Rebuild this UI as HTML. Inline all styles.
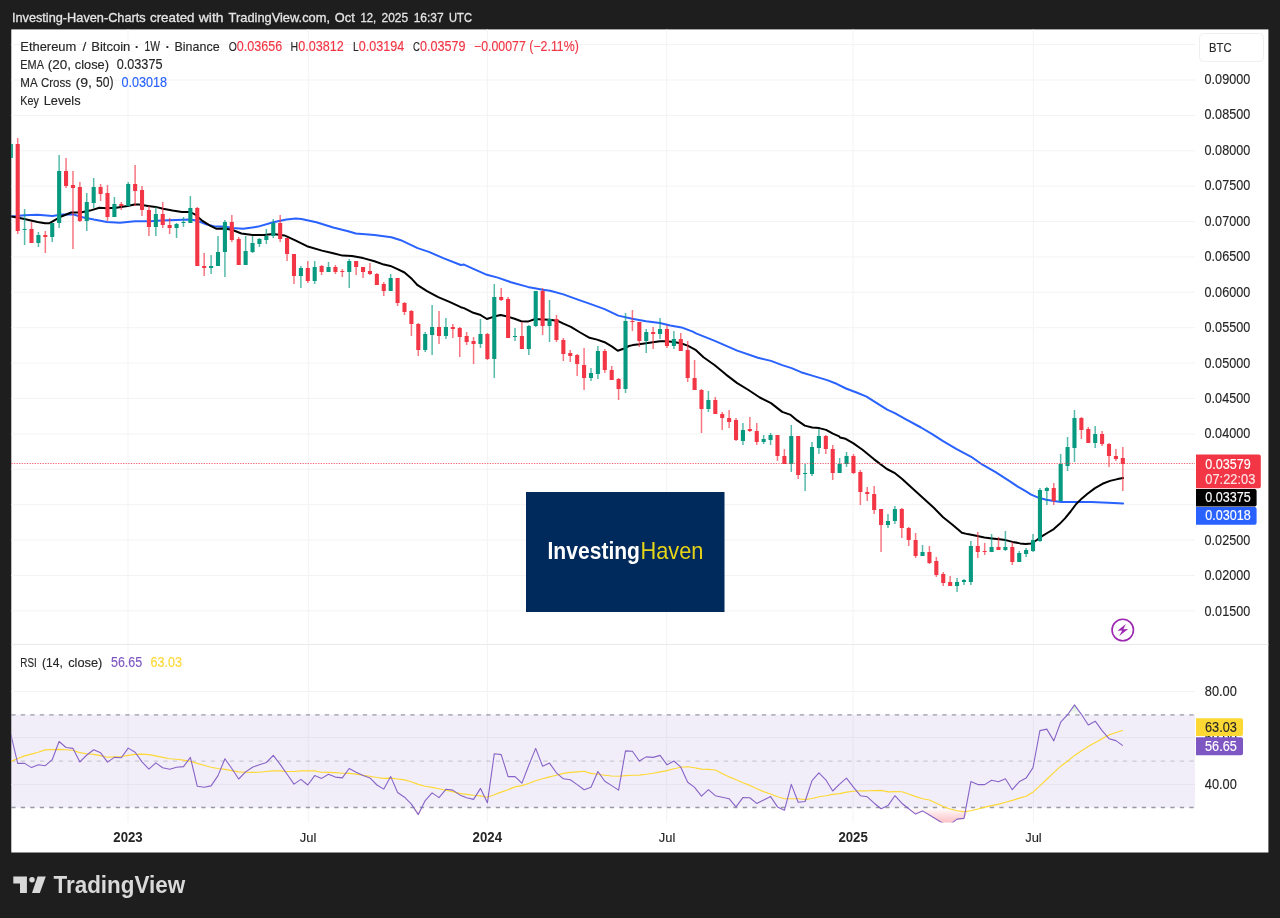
<!DOCTYPE html><html><head><meta charset="utf-8"><title>ETHBTC chart</title>
<style>html,body{margin:0;padding:0;background:#1e1e1e;}svg{display:block}text{font-family:"Liberation Sans",Arial,sans-serif}</style></head><body>
<svg width="1280" height="918" viewBox="0 0 1280 918">
<rect x="0" y="0" width="1280" height="918" fill="#1e1e1e"/>
<text x="11.9" y="21.9" font-size="13" fill="#e4e4e4" stroke="#e4e4e4" stroke-width="0.3" textLength="133.8" lengthAdjust="spacingAndGlyphs">Investing-Haven-Charts</text>
<text x="150.0" y="21.9" font-size="13" fill="#e4e4e4" stroke="#e4e4e4" stroke-width="0.3" textLength="44.5" lengthAdjust="spacingAndGlyphs">created</text>
<text x="198.8" y="21.9" font-size="13" fill="#e4e4e4" stroke="#e4e4e4" stroke-width="0.3" textLength="24.7" lengthAdjust="spacingAndGlyphs">with</text>
<text x="228.6" y="21.9" font-size="13" fill="#e4e4e4" stroke="#e4e4e4" stroke-width="0.3" textLength="101.4" lengthAdjust="spacingAndGlyphs">TradingView.com,</text>
<text x="334.8" y="21.9" font-size="13" fill="#e4e4e4" stroke="#e4e4e4" stroke-width="0.3" textLength="19.9" lengthAdjust="spacingAndGlyphs">Oct</text>
<text x="360.5" y="21.9" font-size="13" fill="#e4e4e4" stroke="#e4e4e4" stroke-width="0.3" textLength="15.7" lengthAdjust="spacingAndGlyphs">12,</text>
<text x="381.6" y="21.9" font-size="13" fill="#e4e4e4" stroke="#e4e4e4" stroke-width="0.3" textLength="26.5" lengthAdjust="spacingAndGlyphs">2025</text>
<text x="413.7" y="21.9" font-size="13" fill="#e4e4e4" stroke="#e4e4e4" stroke-width="0.3" textLength="30.0" lengthAdjust="spacingAndGlyphs">16:37</text>
<text x="449.1" y="21.9" font-size="13" fill="#e4e4e4" stroke="#e4e4e4" stroke-width="0.3" textLength="22.8" lengthAdjust="spacingAndGlyphs">UTC</text>
<rect x="11.3" y="29.4" width="1257.1" height="823.1" fill="#ffffff"/>
<g stroke="#f3f3f4" stroke-width="1">
<line x1="128.0" y1="29.4" x2="128.0" y2="822.5"/>
<line x1="308.3" y1="29.4" x2="308.3" y2="822.5"/>
<line x1="487.4" y1="29.4" x2="487.4" y2="822.5"/>
<line x1="666.7" y1="29.4" x2="666.7" y2="822.5"/>
<line x1="853.1" y1="29.4" x2="853.1" y2="822.5"/>
<line x1="1033.4" y1="29.4" x2="1033.4" y2="822.5"/>
<line x1="11.3" y1="44.61" x2="1195" y2="44.61"/>
<line x1="11.3" y1="80.00" x2="1195" y2="80.00"/>
<line x1="11.3" y1="115.39" x2="1195" y2="115.39"/>
<line x1="11.3" y1="150.78" x2="1195" y2="150.78"/>
<line x1="11.3" y1="186.17" x2="1195" y2="186.17"/>
<line x1="11.3" y1="221.56" x2="1195" y2="221.56"/>
<line x1="11.3" y1="256.95" x2="1195" y2="256.95"/>
<line x1="11.3" y1="292.34" x2="1195" y2="292.34"/>
<line x1="11.3" y1="327.73" x2="1195" y2="327.73"/>
<line x1="11.3" y1="363.12" x2="1195" y2="363.12"/>
<line x1="11.3" y1="398.51" x2="1195" y2="398.51"/>
<line x1="11.3" y1="433.90" x2="1195" y2="433.90"/>
<line x1="11.3" y1="469.29" x2="1195" y2="469.29"/>
<line x1="11.3" y1="504.68" x2="1195" y2="504.68"/>
<line x1="11.3" y1="540.07" x2="1195" y2="540.07"/>
<line x1="11.3" y1="575.46" x2="1195" y2="575.46"/>
<line x1="11.3" y1="610.85" x2="1195" y2="610.85"/>
<line x1="11.3" y1="691.5" x2="1195" y2="691.5"/>
<line x1="11.3" y1="737.5" x2="1195" y2="737.5"/>
<line x1="11.3" y1="784.5" x2="1195" y2="784.5"/>
</g>
<rect x="11.3" y="644" width="1257.1" height="1" fill="#e9e9ec"/>
<rect x="11.3" y="714.7" width="1183.7" height="92.8" fill="#7e57c2" fill-opacity="0.1"/>
<line x1="11.3" y1="714.9" x2="1195" y2="714.9" stroke="#787b86" stroke-opacity="0.75" stroke-width="1.4" stroke-dasharray="4.3,5.2"/>
<line x1="11.3" y1="761.1" x2="1195" y2="761.1" stroke="#787b86" stroke-opacity="0.32" stroke-width="1.3" stroke-dasharray="4.3,5.2"/>
<line x1="11.3" y1="807.5" x2="1195" y2="807.5" stroke="#787b86" stroke-opacity="0.75" stroke-width="1.4" stroke-dasharray="4.3,5.2"/>
<defs><clipPath id="cm"><rect x="11.3" y="29.4" width="1183.7" height="614.6"/></clipPath><clipPath id="cr"><rect x="11.3" y="645" width="1183.7" height="177.5"/></clipPath>
<linearGradient id="og" x1="0" y1="0" x2="0" y2="1"><stop offset="0" stop-color="#f23645" stop-opacity="0"/><stop offset="1" stop-color="#f23645" stop-opacity="0.35"/></linearGradient>
<linearGradient id="bg" x1="0" y1="0" x2="0" y2="1"><stop offset="0" stop-color="#4caf50" stop-opacity="0.3"/><stop offset="1" stop-color="#4caf50" stop-opacity="0"/></linearGradient>
</defs>
<g clip-path="url(#cm)">
<polyline fill="none" stroke="#2962ff" stroke-width="2" stroke-linejoin="round" stroke-linecap="round" points="10.5,216.3 12.0,216.6 24.4,215.3 37.5,214.8 52.5,215.9 61.9,214.4 73.1,214.4 82.5,217.2 93.8,219.6 106.9,221.9 120.0,222.8 135.0,221.3 150.0,221.3 161.2,220.6 176.2,220.0 189.4,219.6 196.9,220.6 206.2,224.3 215.6,226.6 225.0,226.6 232.0,227.9 243.2,228.8 258.2,226.6 273.2,222.2 286.4,219.4 295.8,218.5 301.4,219.1 316.4,222.2 333.2,227.5 348.2,231.2 355.8,233.5 374.5,235.0 391.4,237.2 400.8,240.2 417.6,248.1 428.9,251.9 443.9,258.4 460.8,265.0 464.0,264.6 473.4,268.8 486.9,274.8 497.8,277.6 510.9,282.2 527.8,286.9 542.8,289.8 550.2,290.7 563.4,294.4 576.5,299.1 591.5,304.4 604.6,309.1 618.3,315.6 632.2,318.8 646.1,321.2 659.9,323.1 670.2,325.4 681.5,327.4 692.8,331.6 696.0,333.4 714.8,340.9 737.2,350.6 757.9,357.8 771.0,360.9 782.2,365.1 791.6,368.1 801.0,372.2 812.2,375.6 827.2,380.1 836.6,383.8 846.0,388.5 857.2,392.8 866.6,396.6 876.0,402.6 887.2,409.7 894.8,413.1 906.0,419.4 921.0,427.5 932.2,434.1 943.1,441.2 956.2,448.8 971.2,456.8 982.5,464.7 995.6,472.2 1008.8,480.6 1018.1,486.8 1020.0,487.9 1025.6,491.2 1031.2,494.6 1038.8,497.8 1046.2,499.7 1053.8,501.0 1061.2,501.9 1076.2,502.1 1091.2,502.1 1102.5,502.5 1113.8,502.9 1123.1,503.4"/>
<polyline fill="none" stroke="#000000" stroke-width="2" stroke-linejoin="round" stroke-linecap="round" points="10.5,216.3 12.0,216.6 24.4,219.1 37.5,221.9 45.0,223.2 49.7,223.2 54.4,220.4 61.9,216.2 71.2,212.5 80.6,212.5 90.0,210.6 99.4,207.8 106.9,208.2 116.2,207.8 127.5,205.9 134.6,204.4 138.8,204.6 148.1,205.9 155.6,206.9 163.1,208.8 172.5,210.6 181.9,211.9 189.4,211.9 195.0,214.4 202.5,220.9 210.0,225.6 216.6,228.8 223.1,228.4 230.6,229.4 232.0,229.8 241.4,233.5 252.6,235.0 263.9,235.0 273.2,234.1 284.5,235.4 295.8,240.6 307.0,246.2 322.0,250.6 333.2,253.2 342.6,255.6 352.0,256.0 363.2,258.1 374.5,261.2 383.9,264.6 390.4,265.9 397.0,268.8 404.5,272.5 412.0,279.1 417.6,285.2 427.0,291.2 438.2,297.2 449.5,301.9 460.8,307.2 464.0,308.1 473.4,312.8 479.9,314.7 486.9,319.0 494.0,316.6 500.6,315.1 507.5,316.6 514.6,318.8 521.2,321.2 527.8,321.6 535.2,319.0 542.8,319.4 550.2,319.8 557.8,320.9 563.4,323.7 570.9,326.9 580.2,332.5 589.6,337.8 597.1,339.6 604.6,342.2 612.1,346.6 617.8,350.7 623.4,348.8 629.0,346.0 632.8,345.1 639.1,344.3 646.1,343.2 653.0,342.2 659.9,341.3 666.9,341.3 673.8,341.9 680.8,343.2 687.7,345.6 694.6,349.4 696.0,350.2 703.5,357.2 714.8,365.2 726.0,374.6 737.2,383.1 748.5,390.0 759.8,397.5 771.0,403.1 782.2,411.9 790.7,414.9 797.2,420.4 804.8,425.6 812.2,427.5 819.2,428.1 826.1,429.9 832.9,433.7 839.2,436.3 840.0,437.5 845.6,438.8 853.1,443.1 862.5,449.7 873.8,459.1 886.9,469.0 894.4,472.8 901.9,478.8 911.2,487.2 922.5,497.5 933.8,507.8 943.1,517.2 952.5,524.7 961.9,532.8 967.5,534.1 975.0,535.6 984.4,537.4 991.9,538.4 999.4,539.3 1005.6,540.1 1012.5,541.9 1018.1,542.9 1020.0,543.4 1025.6,544.1 1031.2,543.4 1036.9,540.0 1042.5,535.9 1048.1,532.5 1053.8,529.1 1059.4,524.1 1065.0,518.4 1070.6,511.5 1076.2,504.0 1081.9,498.4 1087.5,493.7 1095.0,488.1 1102.5,483.8 1110.0,480.9 1117.5,479.1 1123.1,478.1"/>
<rect x="10.04" y="144" width="1.5" height="14" fill="#089981" fill-opacity="0.68"/>
<rect x="16.95" y="138" width="1.5" height="96" fill="#f23645" fill-opacity="0.68"/>
<rect x="23.86" y="209" width="1.5" height="36" fill="#089981" fill-opacity="0.68"/>
<rect x="30.76" y="222" width="1.5" height="21" fill="#f23645" fill-opacity="0.68"/>
<rect x="37.67" y="232" width="1.5" height="15" fill="#089981" fill-opacity="0.68"/>
<rect x="44.58" y="231" width="1.5" height="22" fill="#f23645" fill-opacity="0.68"/>
<rect x="51.48" y="223" width="1.5" height="19" fill="#089981" fill-opacity="0.68"/>
<rect x="58.39" y="155" width="1.5" height="73" fill="#089981" fill-opacity="0.68"/>
<rect x="65.30" y="158" width="1.5" height="30" fill="#f23645" fill-opacity="0.68"/>
<rect x="72.21" y="171" width="1.5" height="78" fill="#f23645" fill-opacity="0.68"/>
<rect x="79.11" y="182" width="1.5" height="40" fill="#f23645" fill-opacity="0.68"/>
<rect x="86.02" y="193" width="1.5" height="38" fill="#089981" fill-opacity="0.68"/>
<rect x="92.93" y="178" width="1.5" height="30" fill="#089981" fill-opacity="0.68"/>
<rect x="99.83" y="184" width="1.5" height="17" fill="#f23645" fill-opacity="0.68"/>
<rect x="106.74" y="185" width="1.5" height="36" fill="#f23645" fill-opacity="0.68"/>
<rect x="113.65" y="197" width="1.5" height="20" fill="#089981" fill-opacity="0.68"/>
<rect x="120.56" y="202" width="1.5" height="8" fill="#f23645" fill-opacity="0.68"/>
<rect x="127.46" y="182" width="1.5" height="24" fill="#089981" fill-opacity="0.68"/>
<rect x="134.37" y="165" width="1.5" height="41" fill="#f23645" fill-opacity="0.68"/>
<rect x="141.28" y="186" width="1.5" height="30" fill="#f23645" fill-opacity="0.68"/>
<rect x="148.18" y="206" width="1.5" height="30" fill="#f23645" fill-opacity="0.68"/>
<rect x="155.09" y="207" width="1.5" height="29" fill="#089981" fill-opacity="0.68"/>
<rect x="162.00" y="202" width="1.5" height="26" fill="#f23645" fill-opacity="0.68"/>
<rect x="168.90" y="218" width="1.5" height="16" fill="#f23645" fill-opacity="0.68"/>
<rect x="175.81" y="223" width="1.5" height="15" fill="#089981" fill-opacity="0.68"/>
<rect x="182.72" y="217" width="1.5" height="10" fill="#089981" fill-opacity="0.68"/>
<rect x="189.62" y="196" width="1.5" height="27" fill="#089981" fill-opacity="0.68"/>
<rect x="196.53" y="207" width="1.5" height="59" fill="#f23645" fill-opacity="0.68"/>
<rect x="203.44" y="253" width="1.5" height="23" fill="#f23645" fill-opacity="0.68"/>
<rect x="210.35" y="255" width="1.5" height="19" fill="#089981" fill-opacity="0.68"/>
<rect x="217.25" y="236" width="1.5" height="30" fill="#089981" fill-opacity="0.68"/>
<rect x="224.16" y="220" width="1.5" height="57" fill="#089981" fill-opacity="0.68"/>
<rect x="231.07" y="215" width="1.5" height="27" fill="#f23645" fill-opacity="0.68"/>
<rect x="237.97" y="237" width="1.5" height="28" fill="#f23645" fill-opacity="0.68"/>
<rect x="244.88" y="236" width="1.5" height="29" fill="#089981" fill-opacity="0.68"/>
<rect x="251.79" y="236" width="1.5" height="17" fill="#089981" fill-opacity="0.68"/>
<rect x="258.69" y="238" width="1.5" height="9" fill="#089981" fill-opacity="0.68"/>
<rect x="265.60" y="229" width="1.5" height="15" fill="#089981" fill-opacity="0.68"/>
<rect x="272.51" y="219" width="1.5" height="19" fill="#089981" fill-opacity="0.68"/>
<rect x="279.42" y="215" width="1.5" height="27" fill="#f23645" fill-opacity="0.68"/>
<rect x="286.32" y="238" width="1.5" height="23" fill="#f23645" fill-opacity="0.68"/>
<rect x="293.23" y="254" width="1.5" height="30" fill="#f23645" fill-opacity="0.68"/>
<rect x="300.14" y="266" width="1.5" height="22" fill="#089981" fill-opacity="0.68"/>
<rect x="307.04" y="261" width="1.5" height="22" fill="#f23645" fill-opacity="0.68"/>
<rect x="313.95" y="261" width="1.5" height="23" fill="#089981" fill-opacity="0.68"/>
<rect x="320.86" y="265" width="1.5" height="10" fill="#f23645" fill-opacity="0.68"/>
<rect x="327.76" y="262" width="1.5" height="10" fill="#089981" fill-opacity="0.68"/>
<rect x="334.67" y="265" width="1.5" height="9" fill="#f23645" fill-opacity="0.68"/>
<rect x="341.58" y="269" width="1.5" height="8" fill="#f23645" fill-opacity="0.68"/>
<rect x="348.49" y="259" width="1.5" height="29" fill="#089981" fill-opacity="0.68"/>
<rect x="355.39" y="261" width="1.5" height="14" fill="#f23645" fill-opacity="0.68"/>
<rect x="362.30" y="267" width="1.5" height="11" fill="#f23645" fill-opacity="0.68"/>
<rect x="369.21" y="263" width="1.5" height="12" fill="#f23645" fill-opacity="0.68"/>
<rect x="376.11" y="273" width="1.5" height="12" fill="#f23645" fill-opacity="0.68"/>
<rect x="383.02" y="282" width="1.5" height="14" fill="#f23645" fill-opacity="0.68"/>
<rect x="389.93" y="274" width="1.5" height="17" fill="#089981" fill-opacity="0.68"/>
<rect x="396.83" y="278" width="1.5" height="28" fill="#f23645" fill-opacity="0.68"/>
<rect x="403.74" y="302" width="1.5" height="13" fill="#f23645" fill-opacity="0.68"/>
<rect x="410.65" y="310" width="1.5" height="26" fill="#f23645" fill-opacity="0.68"/>
<rect x="417.56" y="323" width="1.5" height="33" fill="#f23645" fill-opacity="0.68"/>
<rect x="424.46" y="332" width="1.5" height="20" fill="#089981" fill-opacity="0.68"/>
<rect x="431.37" y="305" width="1.5" height="50" fill="#089981" fill-opacity="0.68"/>
<rect x="438.28" y="311" width="1.5" height="33" fill="#f23645" fill-opacity="0.68"/>
<rect x="445.18" y="318" width="1.5" height="21" fill="#089981" fill-opacity="0.68"/>
<rect x="452.09" y="324" width="1.5" height="14" fill="#f23645" fill-opacity="0.68"/>
<rect x="459.00" y="327" width="1.5" height="30" fill="#f23645" fill-opacity="0.68"/>
<rect x="465.90" y="332" width="1.5" height="13" fill="#f23645" fill-opacity="0.68"/>
<rect x="472.81" y="337" width="1.5" height="27" fill="#f23645" fill-opacity="0.68"/>
<rect x="479.72" y="319" width="1.5" height="29" fill="#089981" fill-opacity="0.68"/>
<rect x="486.63" y="333" width="1.5" height="27" fill="#f23645" fill-opacity="0.68"/>
<rect x="493.53" y="284" width="1.5" height="94" fill="#089981" fill-opacity="0.68"/>
<rect x="500.44" y="288" width="1.5" height="13" fill="#f23645" fill-opacity="0.68"/>
<rect x="507.35" y="297" width="1.5" height="41" fill="#f23645" fill-opacity="0.68"/>
<rect x="514.25" y="328" width="1.5" height="13" fill="#089981" fill-opacity="0.68"/>
<rect x="521.16" y="322" width="1.5" height="27" fill="#f23645" fill-opacity="0.68"/>
<rect x="528.07" y="325" width="1.5" height="30" fill="#089981" fill-opacity="0.68"/>
<rect x="534.98" y="291" width="1.5" height="36" fill="#089981" fill-opacity="0.68"/>
<rect x="541.88" y="288" width="1.5" height="47" fill="#f23645" fill-opacity="0.68"/>
<rect x="548.79" y="300" width="1.5" height="42" fill="#089981" fill-opacity="0.68"/>
<rect x="555.70" y="315" width="1.5" height="27" fill="#f23645" fill-opacity="0.68"/>
<rect x="562.60" y="338" width="1.5" height="23" fill="#f23645" fill-opacity="0.68"/>
<rect x="569.51" y="350" width="1.5" height="12" fill="#f23645" fill-opacity="0.68"/>
<rect x="576.42" y="354" width="1.5" height="22" fill="#f23645" fill-opacity="0.68"/>
<rect x="583.32" y="348" width="1.5" height="42" fill="#f23645" fill-opacity="0.68"/>
<rect x="590.23" y="368" width="1.5" height="13" fill="#089981" fill-opacity="0.68"/>
<rect x="597.14" y="346" width="1.5" height="33" fill="#089981" fill-opacity="0.68"/>
<rect x="604.05" y="349" width="1.5" height="24" fill="#f23645" fill-opacity="0.68"/>
<rect x="610.95" y="366" width="1.5" height="14" fill="#f23645" fill-opacity="0.68"/>
<rect x="617.86" y="378" width="1.5" height="22" fill="#f23645" fill-opacity="0.68"/>
<rect x="624.77" y="313" width="1.5" height="80" fill="#089981" fill-opacity="0.68"/>
<rect x="631.67" y="310" width="1.5" height="21" fill="#f23645" fill-opacity="0.68"/>
<rect x="638.58" y="322" width="1.5" height="25" fill="#f23645" fill-opacity="0.68"/>
<rect x="645.49" y="329" width="1.5" height="24" fill="#089981" fill-opacity="0.68"/>
<rect x="652.39" y="327" width="1.5" height="22" fill="#f23645" fill-opacity="0.68"/>
<rect x="659.30" y="318" width="1.5" height="21" fill="#089981" fill-opacity="0.68"/>
<rect x="666.21" y="325" width="1.5" height="23" fill="#f23645" fill-opacity="0.68"/>
<rect x="673.12" y="331" width="1.5" height="18" fill="#089981" fill-opacity="0.68"/>
<rect x="680.02" y="333" width="1.5" height="18" fill="#f23645" fill-opacity="0.68"/>
<rect x="686.93" y="341" width="1.5" height="41" fill="#f23645" fill-opacity="0.68"/>
<rect x="693.84" y="360" width="1.5" height="30" fill="#f23645" fill-opacity="0.68"/>
<rect x="700.74" y="389" width="1.5" height="44" fill="#f23645" fill-opacity="0.68"/>
<rect x="707.65" y="391" width="1.5" height="21" fill="#089981" fill-opacity="0.68"/>
<rect x="714.56" y="397" width="1.5" height="17" fill="#f23645" fill-opacity="0.68"/>
<rect x="721.46" y="412" width="1.5" height="18" fill="#f23645" fill-opacity="0.68"/>
<rect x="728.37" y="410" width="1.5" height="18" fill="#f23645" fill-opacity="0.68"/>
<rect x="735.28" y="418" width="1.5" height="23" fill="#f23645" fill-opacity="0.68"/>
<rect x="742.19" y="423" width="1.5" height="22" fill="#089981" fill-opacity="0.68"/>
<rect x="749.09" y="417" width="1.5" height="15" fill="#f23645" fill-opacity="0.68"/>
<rect x="756.00" y="423" width="1.5" height="22" fill="#f23645" fill-opacity="0.68"/>
<rect x="762.91" y="435" width="1.5" height="9" fill="#089981" fill-opacity="0.68"/>
<rect x="769.81" y="433" width="1.5" height="12" fill="#089981" fill-opacity="0.68"/>
<rect x="776.72" y="435" width="1.5" height="26" fill="#f23645" fill-opacity="0.68"/>
<rect x="783.63" y="449" width="1.5" height="15" fill="#f23645" fill-opacity="0.68"/>
<rect x="790.53" y="425" width="1.5" height="47" fill="#089981" fill-opacity="0.68"/>
<rect x="797.44" y="436" width="1.5" height="43" fill="#f23645" fill-opacity="0.68"/>
<rect x="804.35" y="464" width="1.5" height="27" fill="#089981" fill-opacity="0.68"/>
<rect x="811.25" y="442" width="1.5" height="34" fill="#089981" fill-opacity="0.68"/>
<rect x="818.16" y="429" width="1.5" height="25" fill="#089981" fill-opacity="0.68"/>
<rect x="825.07" y="435" width="1.5" height="19" fill="#f23645" fill-opacity="0.68"/>
<rect x="831.98" y="445" width="1.5" height="35" fill="#f23645" fill-opacity="0.68"/>
<rect x="838.88" y="458" width="1.5" height="15" fill="#089981" fill-opacity="0.68"/>
<rect x="845.79" y="452" width="1.5" height="15" fill="#089981" fill-opacity="0.68"/>
<rect x="852.70" y="454" width="1.5" height="20" fill="#f23645" fill-opacity="0.68"/>
<rect x="859.60" y="470" width="1.5" height="35" fill="#f23645" fill-opacity="0.68"/>
<rect x="866.51" y="487" width="1.5" height="14" fill="#f23645" fill-opacity="0.68"/>
<rect x="873.42" y="486" width="1.5" height="28" fill="#f23645" fill-opacity="0.68"/>
<rect x="880.33" y="509" width="1.5" height="43" fill="#f23645" fill-opacity="0.68"/>
<rect x="887.23" y="514" width="1.5" height="14" fill="#089981" fill-opacity="0.68"/>
<rect x="894.14" y="506" width="1.5" height="18" fill="#089981" fill-opacity="0.68"/>
<rect x="901.05" y="508" width="1.5" height="30" fill="#f23645" fill-opacity="0.68"/>
<rect x="907.95" y="527" width="1.5" height="19" fill="#f23645" fill-opacity="0.68"/>
<rect x="914.86" y="533" width="1.5" height="25" fill="#f23645" fill-opacity="0.68"/>
<rect x="921.77" y="545" width="1.5" height="11" fill="#089981" fill-opacity="0.68"/>
<rect x="928.67" y="546" width="1.5" height="18" fill="#f23645" fill-opacity="0.68"/>
<rect x="935.58" y="557" width="1.5" height="20" fill="#f23645" fill-opacity="0.68"/>
<rect x="942.49" y="572" width="1.5" height="14" fill="#f23645" fill-opacity="0.68"/>
<rect x="949.40" y="576" width="1.5" height="10" fill="#f23645" fill-opacity="0.68"/>
<rect x="956.30" y="578" width="1.5" height="14" fill="#089981" fill-opacity="0.68"/>
<rect x="963.21" y="579" width="1.5" height="6" fill="#089981" fill-opacity="0.68"/>
<rect x="970.12" y="541" width="1.5" height="44" fill="#089981" fill-opacity="0.68"/>
<rect x="977.02" y="532" width="1.5" height="26" fill="#f23645" fill-opacity="0.68"/>
<rect x="983.93" y="543" width="1.5" height="12" fill="#f23645" fill-opacity="0.68"/>
<rect x="990.84" y="534" width="1.5" height="18" fill="#089981" fill-opacity="0.68"/>
<rect x="997.74" y="537" width="1.5" height="13" fill="#f23645" fill-opacity="0.68"/>
<rect x="1004.65" y="531" width="1.5" height="20" fill="#089981" fill-opacity="0.68"/>
<rect x="1011.56" y="542" width="1.5" height="23" fill="#f23645" fill-opacity="0.68"/>
<rect x="1018.47" y="551" width="1.5" height="11" fill="#089981" fill-opacity="0.68"/>
<rect x="1025.37" y="548" width="1.5" height="9" fill="#089981" fill-opacity="0.68"/>
<rect x="1032.28" y="534" width="1.5" height="18" fill="#089981" fill-opacity="0.68"/>
<rect x="1039.19" y="488" width="1.5" height="54" fill="#089981" fill-opacity="0.68"/>
<rect x="1046.09" y="487" width="1.5" height="18" fill="#089981" fill-opacity="0.68"/>
<rect x="1053.00" y="483" width="1.5" height="22" fill="#f23645" fill-opacity="0.68"/>
<rect x="1059.91" y="454" width="1.5" height="47" fill="#089981" fill-opacity="0.68"/>
<rect x="1066.81" y="437" width="1.5" height="34" fill="#089981" fill-opacity="0.68"/>
<rect x="1073.72" y="410" width="1.5" height="52" fill="#089981" fill-opacity="0.68"/>
<rect x="1080.63" y="417" width="1.5" height="22" fill="#f23645" fill-opacity="0.68"/>
<rect x="1087.54" y="427" width="1.5" height="16" fill="#f23645" fill-opacity="0.68"/>
<rect x="1094.44" y="426" width="1.5" height="22" fill="#089981" fill-opacity="0.68"/>
<rect x="1101.35" y="431" width="1.5" height="15" fill="#f23645" fill-opacity="0.68"/>
<rect x="1108.26" y="443" width="1.5" height="24" fill="#f23645" fill-opacity="0.68"/>
<rect x="1115.16" y="449" width="1.5" height="12" fill="#f23645" fill-opacity="0.68"/>
<rect x="1122.07" y="447" width="1.5" height="44" fill="#f23645" fill-opacity="0.68"/>
<rect x="8.74" y="144" width="4.1" height="14" fill="#089981"/>
<rect x="15.65" y="144" width="4.1" height="87" fill="#f23645"/>
<rect x="22.56" y="229" width="4.1" height="1" fill="#089981"/>
<rect x="29.46" y="229" width="4.1" height="14" fill="#f23645"/>
<rect x="36.37" y="235" width="4.1" height="8" fill="#089981"/>
<rect x="43.28" y="235" width="4.1" height="2" fill="#f23645"/>
<rect x="50.19" y="223" width="4.1" height="14" fill="#089981"/>
<rect x="57.09" y="171" width="4.1" height="52" fill="#089981"/>
<rect x="64.00" y="171" width="4.1" height="15" fill="#f23645"/>
<rect x="70.91" y="185" width="4.1" height="3" fill="#f23645"/>
<rect x="77.81" y="187" width="4.1" height="34" fill="#f23645"/>
<rect x="84.72" y="202" width="4.1" height="19" fill="#089981"/>
<rect x="91.63" y="187" width="4.1" height="16" fill="#089981"/>
<rect x="98.53" y="187" width="4.1" height="7" fill="#f23645"/>
<rect x="105.44" y="193" width="4.1" height="24" fill="#f23645"/>
<rect x="112.35" y="204" width="4.1" height="13" fill="#089981"/>
<rect x="119.26" y="204" width="4.1" height="2" fill="#f23645"/>
<rect x="126.16" y="184" width="4.1" height="22" fill="#089981"/>
<rect x="133.07" y="184" width="4.1" height="7" fill="#f23645"/>
<rect x="139.98" y="190" width="4.1" height="20" fill="#f23645"/>
<rect x="146.88" y="210" width="4.1" height="17" fill="#f23645"/>
<rect x="153.79" y="214" width="4.1" height="13" fill="#089981"/>
<rect x="160.70" y="214" width="4.1" height="11" fill="#f23645"/>
<rect x="167.60" y="225" width="4.1" height="3" fill="#f23645"/>
<rect x="174.51" y="224" width="4.1" height="4" fill="#089981"/>
<rect x="181.42" y="222" width="4.1" height="1" fill="#089981"/>
<rect x="188.32" y="208" width="4.1" height="15" fill="#089981"/>
<rect x="195.23" y="208" width="4.1" height="58" fill="#f23645"/>
<rect x="202.14" y="266" width="4.1" height="2" fill="#f23645"/>
<rect x="209.05" y="266" width="4.1" height="2" fill="#089981"/>
<rect x="215.95" y="252" width="4.1" height="14" fill="#089981"/>
<rect x="222.86" y="222" width="4.1" height="30" fill="#089981"/>
<rect x="229.77" y="222" width="4.1" height="18" fill="#f23645"/>
<rect x="236.67" y="239" width="4.1" height="26" fill="#f23645"/>
<rect x="243.58" y="251" width="4.1" height="14" fill="#089981"/>
<rect x="250.49" y="243" width="4.1" height="9" fill="#089981"/>
<rect x="257.39" y="239" width="4.1" height="5" fill="#089981"/>
<rect x="264.30" y="236" width="4.1" height="4" fill="#089981"/>
<rect x="271.21" y="223" width="4.1" height="13" fill="#089981"/>
<rect x="278.12" y="223" width="4.1" height="16" fill="#f23645"/>
<rect x="285.02" y="238" width="4.1" height="16" fill="#f23645"/>
<rect x="291.93" y="254" width="4.1" height="22" fill="#f23645"/>
<rect x="298.84" y="268" width="4.1" height="8" fill="#089981"/>
<rect x="305.74" y="268" width="4.1" height="13" fill="#f23645"/>
<rect x="312.65" y="267" width="4.1" height="14" fill="#089981"/>
<rect x="319.56" y="266" width="4.1" height="6" fill="#f23645"/>
<rect x="326.46" y="267" width="4.1" height="5" fill="#089981"/>
<rect x="333.37" y="267" width="4.1" height="5" fill="#f23645"/>
<rect x="340.28" y="271" width="4.1" height="1" fill="#f23645"/>
<rect x="347.19" y="261" width="4.1" height="11" fill="#089981"/>
<rect x="354.09" y="261" width="4.1" height="6" fill="#f23645"/>
<rect x="361.00" y="267" width="4.1" height="5" fill="#f23645"/>
<rect x="367.91" y="271" width="4.1" height="3" fill="#f23645"/>
<rect x="374.81" y="274" width="4.1" height="11" fill="#f23645"/>
<rect x="381.72" y="284" width="4.1" height="7" fill="#f23645"/>
<rect x="388.63" y="278" width="4.1" height="13" fill="#089981"/>
<rect x="395.53" y="278" width="4.1" height="25" fill="#f23645"/>
<rect x="402.44" y="303" width="4.1" height="9" fill="#f23645"/>
<rect x="409.35" y="311" width="4.1" height="13" fill="#f23645"/>
<rect x="416.26" y="324" width="4.1" height="26" fill="#f23645"/>
<rect x="423.16" y="334" width="4.1" height="16" fill="#089981"/>
<rect x="430.07" y="327" width="4.1" height="8" fill="#089981"/>
<rect x="436.98" y="327" width="4.1" height="9" fill="#f23645"/>
<rect x="443.88" y="327" width="4.1" height="9" fill="#089981"/>
<rect x="450.79" y="327" width="4.1" height="2" fill="#f23645"/>
<rect x="457.70" y="328" width="4.1" height="9" fill="#f23645"/>
<rect x="464.60" y="336" width="4.1" height="6" fill="#f23645"/>
<rect x="471.51" y="341" width="4.1" height="3" fill="#f23645"/>
<rect x="478.42" y="334" width="4.1" height="10" fill="#089981"/>
<rect x="485.33" y="334" width="4.1" height="25" fill="#f23645"/>
<rect x="492.23" y="297" width="4.1" height="62" fill="#089981"/>
<rect x="499.14" y="297" width="4.1" height="3" fill="#f23645"/>
<rect x="506.05" y="299" width="4.1" height="39" fill="#f23645"/>
<rect x="512.95" y="336" width="4.1" height="1" fill="#089981"/>
<rect x="519.86" y="336" width="4.1" height="13" fill="#f23645"/>
<rect x="526.77" y="326" width="4.1" height="23" fill="#089981"/>
<rect x="533.68" y="291" width="4.1" height="35" fill="#089981"/>
<rect x="540.58" y="291" width="4.1" height="35" fill="#f23645"/>
<rect x="547.49" y="319" width="4.1" height="7" fill="#089981"/>
<rect x="554.40" y="319" width="4.1" height="21" fill="#f23645"/>
<rect x="561.30" y="340" width="4.1" height="14" fill="#f23645"/>
<rect x="568.21" y="353" width="4.1" height="3" fill="#f23645"/>
<rect x="575.12" y="355" width="4.1" height="9" fill="#f23645"/>
<rect x="582.02" y="365" width="4.1" height="13" fill="#f23645"/>
<rect x="588.93" y="373" width="4.1" height="5" fill="#089981"/>
<rect x="595.84" y="351" width="4.1" height="23" fill="#089981"/>
<rect x="602.75" y="351" width="4.1" height="19" fill="#f23645"/>
<rect x="609.65" y="370" width="4.1" height="10" fill="#f23645"/>
<rect x="616.56" y="379" width="4.1" height="10" fill="#f23645"/>
<rect x="623.47" y="321" width="4.1" height="68" fill="#089981"/>
<rect x="630.37" y="321" width="4.1" height="1" fill="#f23645"/>
<rect x="637.28" y="322" width="4.1" height="19" fill="#f23645"/>
<rect x="644.19" y="332" width="4.1" height="9" fill="#089981"/>
<rect x="651.09" y="332" width="4.1" height="2" fill="#f23645"/>
<rect x="658.00" y="329" width="4.1" height="5" fill="#089981"/>
<rect x="664.91" y="329" width="4.1" height="17" fill="#f23645"/>
<rect x="671.82" y="339" width="4.1" height="7" fill="#089981"/>
<rect x="678.72" y="339" width="4.1" height="12" fill="#f23645"/>
<rect x="685.63" y="350" width="4.1" height="28" fill="#f23645"/>
<rect x="692.54" y="378" width="4.1" height="12" fill="#f23645"/>
<rect x="699.44" y="390" width="4.1" height="19" fill="#f23645"/>
<rect x="706.35" y="400" width="4.1" height="9" fill="#089981"/>
<rect x="713.26" y="400" width="4.1" height="14" fill="#f23645"/>
<rect x="720.16" y="414" width="4.1" height="4" fill="#f23645"/>
<rect x="727.07" y="418" width="4.1" height="4" fill="#f23645"/>
<rect x="733.98" y="420" width="4.1" height="20" fill="#f23645"/>
<rect x="740.89" y="430" width="4.1" height="11" fill="#089981"/>
<rect x="747.79" y="429" width="4.1" height="2" fill="#f23645"/>
<rect x="754.70" y="431" width="4.1" height="11" fill="#f23645"/>
<rect x="761.61" y="439" width="4.1" height="3" fill="#089981"/>
<rect x="768.51" y="435" width="4.1" height="5" fill="#089981"/>
<rect x="775.42" y="435" width="4.1" height="21" fill="#f23645"/>
<rect x="782.33" y="456" width="4.1" height="8" fill="#f23645"/>
<rect x="789.23" y="436" width="4.1" height="28" fill="#089981"/>
<rect x="796.14" y="436" width="4.1" height="39" fill="#f23645"/>
<rect x="803.05" y="473" width="4.1" height="1" fill="#089981"/>
<rect x="809.96" y="447" width="4.1" height="27" fill="#089981"/>
<rect x="816.86" y="436" width="4.1" height="12" fill="#089981"/>
<rect x="823.77" y="436" width="4.1" height="13" fill="#f23645"/>
<rect x="830.68" y="449" width="4.1" height="24" fill="#f23645"/>
<rect x="837.58" y="464" width="4.1" height="9" fill="#089981"/>
<rect x="844.49" y="456" width="4.1" height="8" fill="#089981"/>
<rect x="851.40" y="456" width="4.1" height="17" fill="#f23645"/>
<rect x="858.30" y="472" width="4.1" height="20" fill="#f23645"/>
<rect x="865.21" y="492" width="4.1" height="2" fill="#f23645"/>
<rect x="872.12" y="494" width="4.1" height="16" fill="#f23645"/>
<rect x="879.03" y="509" width="4.1" height="16" fill="#f23645"/>
<rect x="885.93" y="521" width="4.1" height="4" fill="#089981"/>
<rect x="892.84" y="509" width="4.1" height="12" fill="#089981"/>
<rect x="899.75" y="509" width="4.1" height="19" fill="#f23645"/>
<rect x="906.65" y="528" width="4.1" height="12" fill="#f23645"/>
<rect x="913.56" y="540" width="4.1" height="16" fill="#f23645"/>
<rect x="920.47" y="552" width="4.1" height="4" fill="#089981"/>
<rect x="927.37" y="552" width="4.1" height="11" fill="#f23645"/>
<rect x="934.28" y="561" width="4.1" height="14" fill="#f23645"/>
<rect x="941.19" y="574" width="4.1" height="9" fill="#f23645"/>
<rect x="948.10" y="582" width="4.1" height="4" fill="#f23645"/>
<rect x="955.00" y="582" width="4.1" height="4" fill="#089981"/>
<rect x="961.91" y="580" width="4.1" height="2" fill="#089981"/>
<rect x="968.82" y="546" width="4.1" height="36" fill="#089981"/>
<rect x="975.72" y="546" width="4.1" height="6" fill="#f23645"/>
<rect x="982.63" y="551" width="4.1" height="1" fill="#f23645"/>
<rect x="989.54" y="547" width="4.1" height="5" fill="#089981"/>
<rect x="996.44" y="547" width="4.1" height="3" fill="#f23645"/>
<rect x="1003.35" y="547" width="4.1" height="3" fill="#089981"/>
<rect x="1010.26" y="547" width="4.1" height="15" fill="#f23645"/>
<rect x="1017.17" y="553" width="4.1" height="9" fill="#089981"/>
<rect x="1024.07" y="550" width="4.1" height="4" fill="#089981"/>
<rect x="1030.98" y="540" width="4.1" height="11" fill="#089981"/>
<rect x="1037.89" y="490" width="4.1" height="51" fill="#089981"/>
<rect x="1044.79" y="488" width="4.1" height="3" fill="#089981"/>
<rect x="1051.70" y="488" width="4.1" height="13" fill="#f23645"/>
<rect x="1058.61" y="464" width="4.1" height="37" fill="#089981"/>
<rect x="1065.51" y="447" width="4.1" height="19" fill="#089981"/>
<rect x="1072.42" y="418" width="4.1" height="30" fill="#089981"/>
<rect x="1079.33" y="418" width="4.1" height="12" fill="#f23645"/>
<rect x="1086.24" y="429" width="4.1" height="14" fill="#f23645"/>
<rect x="1093.14" y="434" width="4.1" height="9" fill="#089981"/>
<rect x="1100.05" y="434" width="4.1" height="10" fill="#f23645"/>
<rect x="1106.96" y="444" width="4.1" height="12" fill="#f23645"/>
<rect x="1113.86" y="456" width="4.1" height="3" fill="#f23645"/>
<rect x="1120.77" y="458" width="4.1" height="6" fill="#f23645"/>
</g>
<line x1="11.3" y1="463.5" x2="1195" y2="463.5" stroke="#f23645" stroke-opacity="0.75" stroke-width="1" stroke-dasharray="1.3,1.3"/>
<rect x="526" y="492" width="198.5" height="120" fill="#002a5c"/>
<text x="547.5" y="558.8" font-size="23.4" fill="#ffffff" font-weight="bold" textLength="92.5" lengthAdjust="spacingAndGlyphs">Investing</text>
<text x="640.5" y="558.8" font-size="23.4" fill="#e6d417" textLength="63" lengthAdjust="spacingAndGlyphs">Haven</text>
<g clip-path="url(#cr)">
<polygon fill="url(#og)" points="10.8,807.5 10.8,807.5 17.7,807.5 24.6,807.5 31.5,807.5 38.4,807.5 45.3,807.5 52.2,807.5 59.1,807.5 66.0,807.5 73.0,807.5 79.9,807.5 86.8,807.5 93.7,807.5 100.6,807.5 107.5,807.5 114.4,807.5 121.3,807.5 128.2,807.5 135.1,807.5 142.0,807.5 148.9,807.5 155.8,807.5 162.7,807.5 169.7,807.5 176.6,807.5 183.5,807.5 190.4,807.5 197.3,807.5 204.2,807.5 211.1,807.5 218.0,807.5 224.9,807.5 231.8,807.5 238.7,807.5 245.6,807.5 252.5,807.5 259.4,807.5 266.4,807.5 273.3,807.5 280.2,807.5 287.1,807.5 294.0,807.5 300.9,807.5 307.8,807.5 314.7,807.5 321.6,807.5 328.5,807.5 335.4,807.5 342.3,807.5 349.2,807.5 356.1,807.5 363.1,807.5 370.0,807.5 376.9,807.5 383.8,807.5 390.7,807.5 397.6,807.5 404.5,807.5 411.4,807.5 418.3,814.6 425.2,807.5 432.1,807.5 439.0,807.5 445.9,807.5 452.8,807.5 459.7,807.5 466.7,807.5 473.6,807.5 480.5,807.5 487.4,807.5 494.3,807.5 501.2,807.5 508.1,807.5 515.0,807.5 521.9,807.5 528.8,807.5 535.7,807.5 542.6,807.5 549.5,807.5 556.4,807.5 563.4,807.5 570.3,807.5 577.2,807.5 584.1,807.5 591.0,807.5 597.9,807.5 604.8,807.5 611.7,807.5 618.6,807.5 625.5,807.5 632.4,807.5 639.3,807.5 646.2,807.5 653.1,807.5 660.1,807.5 667.0,807.5 673.9,807.5 680.8,807.5 687.7,807.5 694.6,807.5 701.5,807.5 708.4,807.5 715.3,807.5 722.2,807.5 729.1,807.5 736.0,807.5 742.9,807.5 749.8,807.5 756.7,807.5 763.7,807.5 770.6,807.5 777.5,807.5 784.4,810.3 791.3,807.5 798.2,807.5 805.1,807.5 812.0,807.5 818.9,807.5 825.8,807.5 832.7,807.5 839.6,807.5 846.5,807.5 853.4,807.5 860.4,807.5 867.3,807.5 874.2,807.5 881.1,808.8 888.0,807.5 894.9,807.5 901.8,807.5 908.7,808.8 915.6,814.1 922.5,810.9 929.4,815.0 936.3,819.3 943.2,823.4 950.1,824.4 957.1,819.1 964.0,818.4 970.9,807.5 977.8,807.5 984.7,807.5 991.6,807.5 998.5,807.5 1005.4,807.5 1012.3,807.5 1019.2,807.5 1026.1,807.5 1033.0,807.5 1039.9,807.5 1046.8,807.5 1053.8,807.5 1060.7,807.5 1067.6,807.5 1074.5,807.5 1081.4,807.5 1088.3,807.5 1095.2,807.5 1102.1,807.5 1109.0,807.5 1115.9,807.5 1122.8,807.5 1122.8,807.5"/>
<polygon fill="url(#bg)" points="10.8,714.7 10.8,714.7 17.7,714.7 24.6,714.7 31.5,714.7 38.4,714.7 45.3,714.7 52.2,714.7 59.1,714.7 66.0,714.7 73.0,714.7 79.9,714.7 86.8,714.7 93.7,714.7 100.6,714.7 107.5,714.7 114.4,714.7 121.3,714.7 128.2,714.7 135.1,714.7 142.0,714.7 148.9,714.7 155.8,714.7 162.7,714.7 169.7,714.7 176.6,714.7 183.5,714.7 190.4,714.7 197.3,714.7 204.2,714.7 211.1,714.7 218.0,714.7 224.9,714.7 231.8,714.7 238.7,714.7 245.6,714.7 252.5,714.7 259.4,714.7 266.4,714.7 273.3,714.7 280.2,714.7 287.1,714.7 294.0,714.7 300.9,714.7 307.8,714.7 314.7,714.7 321.6,714.7 328.5,714.7 335.4,714.7 342.3,714.7 349.2,714.7 356.1,714.7 363.1,714.7 370.0,714.7 376.9,714.7 383.8,714.7 390.7,714.7 397.6,714.7 404.5,714.7 411.4,714.7 418.3,714.7 425.2,714.7 432.1,714.7 439.0,714.7 445.9,714.7 452.8,714.7 459.7,714.7 466.7,714.7 473.6,714.7 480.5,714.7 487.4,714.7 494.3,714.7 501.2,714.7 508.1,714.7 515.0,714.7 521.9,714.7 528.8,714.7 535.7,714.7 542.6,714.7 549.5,714.7 556.4,714.7 563.4,714.7 570.3,714.7 577.2,714.7 584.1,714.7 591.0,714.7 597.9,714.7 604.8,714.7 611.7,714.7 618.6,714.7 625.5,714.7 632.4,714.7 639.3,714.7 646.2,714.7 653.1,714.7 660.1,714.7 667.0,714.7 673.9,714.7 680.8,714.7 687.7,714.7 694.6,714.7 701.5,714.7 708.4,714.7 715.3,714.7 722.2,714.7 729.1,714.7 736.0,714.7 742.9,714.7 749.8,714.7 756.7,714.7 763.7,714.7 770.6,714.7 777.5,714.7 784.4,714.7 791.3,714.7 798.2,714.7 805.1,714.7 812.0,714.7 818.9,714.7 825.8,714.7 832.7,714.7 839.6,714.7 846.5,714.7 853.4,714.7 860.4,714.7 867.3,714.7 874.2,714.7 881.1,714.7 888.0,714.7 894.9,714.7 901.8,714.7 908.7,714.7 915.6,714.7 922.5,714.7 929.4,714.7 936.3,714.7 943.2,714.7 950.1,714.7 957.1,714.7 964.0,714.7 970.9,714.7 977.8,714.7 984.7,714.7 991.6,714.7 998.5,714.7 1005.4,714.7 1012.3,714.7 1019.2,714.7 1026.1,714.7 1033.0,714.7 1039.9,714.7 1046.8,714.7 1053.8,714.7 1060.7,714.7 1067.6,714.7 1074.5,704.9 1081.4,714.3 1088.3,714.7 1095.2,714.7 1102.1,714.7 1109.0,714.7 1115.9,714.7 1122.8,714.7 1122.8,714.7"/>
<polyline fill="none" stroke="#fdd835" stroke-width="1.15" stroke-linejoin="round" points="10.5,761.6 17.4,758.8 24.4,755.9 31.3,754.1 38.2,752.2 45.2,749.9 51.9,749.6 58.9,749.4 65.8,749.8 72.8,750.3 79.7,752.6 86.6,753.7 93.6,754.4 100.3,755.6 107.2,757.2 114.2,756.9 121.1,756.5 128.1,755.4 135.0,754.4 141.8,754.1 148.7,754.6 155.6,755.9 162.6,757.4 169.5,758.8 176.4,759.3 183.4,760.1 190.1,761.2 197.1,763.4 204.0,765.3 210.9,767.2 217.9,768.5 224.8,769.4 231.8,770.6 238.6,771.9 245.5,772.2 252.4,772.4 259.2,772.2 266.1,771.5 273.1,770.9 280.0,770.9 286.9,771.5 293.9,771.5 300.8,770.9 307.6,770.9 314.5,770.9 321.4,772.2 328.4,772.4 335.3,772.6 342.2,773.2 349.2,773.4 355.9,774.1 362.9,775.2 369.8,776.2 376.8,777.5 383.7,778.4 390.6,778.1 397.6,779.0 404.5,779.9 411.2,781.8 418.2,784.4 425.1,786.3 432.1,787.4 439.0,788.8 445.9,790.2 452.7,791.6 459.6,793.4 466.6,794.4 473.6,795.3 480.3,795.9 487.2,797.2 494.2,794.8 501.1,792.1 508.1,789.7 515.0,786.9 521.9,785.6 528.7,783.5 535.6,780.7 542.6,778.8 549.5,776.9 556.4,775.2 563.4,773.4 570.3,772.4 577.1,771.9 584.0,771.3 590.9,773.4 597.9,774.3 604.8,775.2 611.8,776.0 618.7,776.2 625.4,775.6 632.4,775.2 639.3,775.1 646.2,774.3 653.2,773.2 660.1,771.9 667.1,770.6 674.0,768.7 680.8,767.2 687.7,766.8 694.6,767.8 701.4,769.1 708.4,769.4 715.3,770.0 722.2,773.4 729.2,776.9 736.1,779.8 743.1,782.8 749.8,785.4 756.8,788.8 763.7,791.6 770.6,794.0 777.6,796.8 784.5,798.7 791.4,798.7 798.2,798.7 805.1,799.6 812.1,798.5 819.0,796.8 825.9,795.7 832.9,794.4 839.8,793.6 846.6,792.1 853.5,791.2 860.4,790.8 867.4,790.8 874.3,790.6 881.2,790.4 888.2,791.9 894.9,791.6 901.9,791.8 908.8,794.0 915.8,796.6 922.7,798.7 929.5,800.0 936.4,803.2 943.4,806.6 950.3,809.0 957.2,810.7 964.0,811.8 970.9,810.7 977.9,809.0 984.8,807.1 991.8,805.6 998.7,804.1 1005.6,802.2 1012.4,800.4 1019.3,798.1 1026.2,796.2 1033.2,791.9 1040.1,785.6 1047.1,779.0 1054.0,772.4 1060.8,766.2 1067.7,761.0 1074.6,755.4 1081.6,750.7 1088.5,746.2 1095.4,742.4 1102.4,738.5 1109.1,734.9 1116.1,732.5 1123.0,730.2"/>
<polyline fill="none" stroke="#7e57c2" stroke-opacity="0.92" stroke-width="1.1" stroke-linejoin="round" points="10.8,734.4 17.7,763.4 24.6,763.4 31.5,767.6 38.4,764.8 45.3,765.7 52.2,759.7 59.1,741.5 66.0,747.5 73.0,748.4 79.9,761.9 86.8,755.0 93.7,749.8 100.6,752.8 107.5,762.1 114.4,757.4 121.3,757.8 128.2,748.1 135.1,752.2 142.0,761.9 148.9,769.1 155.8,762.9 162.7,767.8 169.7,769.2 176.6,767.2 183.5,766.6 190.4,757.4 197.3,786.3 204.2,787.2 211.1,785.9 218.0,775.6 224.9,758.8 231.8,768.5 238.7,779.0 245.6,771.9 252.5,767.2 259.4,764.8 266.4,762.5 273.3,755.4 280.2,764.4 287.1,774.3 294.0,784.1 300.9,779.4 307.8,785.0 314.7,775.6 321.6,778.4 328.5,774.3 335.4,777.1 342.3,777.9 349.2,768.5 356.1,772.2 363.1,775.6 370.0,777.9 376.9,785.0 383.8,789.1 390.7,776.6 397.6,792.5 404.5,797.2 411.4,804.1 418.3,814.6 425.2,800.6 432.1,792.9 439.0,797.6 445.9,789.3 452.8,790.1 459.7,794.9 466.7,797.8 473.6,799.4 480.5,788.4 487.4,802.8 494.3,753.7 501.2,754.6 508.1,776.6 515.0,776.6 521.9,783.1 528.8,765.3 535.7,748.4 542.6,766.2 549.5,763.1 556.4,772.8 563.4,778.8 570.3,779.8 577.2,784.6 584.1,789.7 591.0,787.2 597.9,771.5 604.8,781.2 611.7,785.6 618.6,790.1 625.5,750.9 632.4,751.2 639.3,761.0 646.2,756.9 653.1,757.4 660.1,755.4 667.0,764.8 673.9,761.0 680.8,767.2 687.7,782.2 694.6,787.4 701.5,796.2 708.4,789.7 715.3,795.7 722.2,797.2 729.1,798.7 736.0,806.9 742.9,797.6 749.8,797.8 756.7,803.4 763.7,800.0 770.6,796.6 777.5,806.9 784.4,810.3 791.3,784.4 798.2,802.2 805.1,801.5 812.0,780.7 818.9,772.8 825.8,779.8 832.7,791.0 839.6,784.1 846.5,778.1 853.4,787.2 860.4,795.7 867.3,796.8 874.2,803.2 881.1,808.8 888.0,805.6 894.9,795.7 901.8,803.2 908.7,808.8 915.6,814.1 922.5,810.9 929.4,815.0 936.3,819.3 943.2,823.4 950.1,824.4 957.1,819.1 964.0,818.4 970.9,781.6 977.8,784.6 984.7,784.6 991.6,780.3 998.5,781.8 1005.4,778.8 1012.3,789.7 1019.2,781.8 1026.1,778.1 1033.0,767.6 1039.9,730.6 1046.8,729.1 1053.8,740.9 1060.7,722.2 1067.6,714.7 1074.5,704.9 1081.4,714.3 1088.3,725.0 1095.2,721.2 1102.1,730.6 1109.0,738.7 1115.9,740.6 1122.8,745.6"/>
</g>
<g><circle cx="1122.75" cy="630" r="10.7" fill="#ffffff" stroke="#9c27b0" stroke-width="1.6"/>
<path d="M1125.9 624 L1117.4 630.8 L1122.2 630.6 L1119.2 636 L1128.2 629 L1123.3 629.3 Z" fill="#9c27b0"/></g>
<text x="1204.6" y="83.9" font-size="14.1" fill="#262626" textLength="45.6" lengthAdjust="spacingAndGlyphs" stroke="#262626" stroke-width="0.15">0.09000</text>
<text x="1204.6" y="119.4" font-size="14.1" fill="#262626" textLength="45.6" lengthAdjust="spacingAndGlyphs" stroke="#262626" stroke-width="0.15">0.08500</text>
<text x="1204.6" y="154.8" font-size="14.1" fill="#262626" textLength="45.6" lengthAdjust="spacingAndGlyphs" stroke="#262626" stroke-width="0.15">0.08000</text>
<text x="1204.6" y="190.3" font-size="14.1" fill="#262626" textLength="45.6" lengthAdjust="spacingAndGlyphs" stroke="#262626" stroke-width="0.15">0.07500</text>
<text x="1204.6" y="225.7" font-size="14.1" fill="#262626" textLength="45.6" lengthAdjust="spacingAndGlyphs" stroke="#262626" stroke-width="0.15">0.07000</text>
<text x="1204.6" y="261.2" font-size="14.1" fill="#262626" textLength="45.6" lengthAdjust="spacingAndGlyphs" stroke="#262626" stroke-width="0.15">0.06500</text>
<text x="1204.6" y="296.6" font-size="14.1" fill="#262626" textLength="45.6" lengthAdjust="spacingAndGlyphs" stroke="#262626" stroke-width="0.15">0.06000</text>
<text x="1204.6" y="332.1" font-size="14.1" fill="#262626" textLength="45.6" lengthAdjust="spacingAndGlyphs" stroke="#262626" stroke-width="0.15">0.05500</text>
<text x="1204.6" y="367.5" font-size="14.1" fill="#262626" textLength="45.6" lengthAdjust="spacingAndGlyphs" stroke="#262626" stroke-width="0.15">0.05000</text>
<text x="1204.6" y="403.0" font-size="14.1" fill="#262626" textLength="45.6" lengthAdjust="spacingAndGlyphs" stroke="#262626" stroke-width="0.15">0.04500</text>
<text x="1204.6" y="438.4" font-size="14.1" fill="#262626" textLength="45.6" lengthAdjust="spacingAndGlyphs" stroke="#262626" stroke-width="0.15">0.04000</text>
<text x="1204.6" y="544.8" font-size="14.1" fill="#262626" textLength="45.6" lengthAdjust="spacingAndGlyphs" stroke="#262626" stroke-width="0.15">0.02500</text>
<text x="1204.6" y="580.2" font-size="14.1" fill="#262626" textLength="45.6" lengthAdjust="spacingAndGlyphs" stroke="#262626" stroke-width="0.15">0.02000</text>
<text x="1204.6" y="615.7" font-size="14.1" fill="#262626" textLength="45.6" lengthAdjust="spacingAndGlyphs" stroke="#262626" stroke-width="0.15">0.01500</text>
<text x="1204.8" y="696.1" font-size="14.1" fill="#262626" textLength="32.0" lengthAdjust="spacingAndGlyphs" stroke="#262626" stroke-width="0.15">80.00</text>
<text x="1204.8" y="742.5" font-size="14.1" fill="#262626" textLength="32.0" lengthAdjust="spacingAndGlyphs" stroke="#262626" stroke-width="0.15">60.00</text>
<text x="1204.8" y="788.9" font-size="14.1" fill="#262626" textLength="32.0" lengthAdjust="spacingAndGlyphs" stroke="#262626" stroke-width="0.15">40.00</text>
<rect x="1199.5" y="33.5" width="64" height="28" rx="4" fill="#ffffff" stroke="#eeeff2" stroke-width="1"/>
<text x="1209.0" y="52.3" font-size="13.5" fill="#262626" textLength="22.5" lengthAdjust="spacingAndGlyphs" stroke="#262626" stroke-width="0.15">BTC</text>
<path d="M1196 454.5 H1258.8 a2 2 0 0 1 2 2 V486.3 a2 2 0 0 1 -2 2 H1196 Z" fill="#f23645"/>
<text x="1205.3" y="468.5" font-size="14.1" fill="#ffffff" textLength="45.5" lengthAdjust="spacingAndGlyphs" stroke="#ffffff" stroke-width="0.15">0.03579</text>
<text x="1205.3" y="483.6" font-size="14.1" fill="#ffffff" textLength="50.0" lengthAdjust="spacingAndGlyphs" fill-opacity="0.85" stroke="#ffffff" stroke-width="0.15" stroke-opacity="0.85">07:22:03</text>
<path d="M1196 489 H1254.6 a2 2 0 0 1 2 2 V504.4 a2 2 0 0 1 -2 2 H1196 Z" fill="#000000"/>
<text x="1205.3" y="502.2" font-size="14.1" fill="#ffffff" textLength="45.5" lengthAdjust="spacingAndGlyphs" stroke="#ffffff" stroke-width="0.15">0.03375</text>
<path d="M1196 507 H1254.6 a2 2 0 0 1 2 2 V522.8 a2 2 0 0 1 -2 2 H1196 Z" fill="#2962ff"/>
<text x="1205.3" y="520.4" font-size="14.1" fill="#ffffff" textLength="45.5" lengthAdjust="spacingAndGlyphs" stroke="#ffffff" stroke-width="0.15">0.03018</text>
<path d="M1196 718.2 H1241 a2 2 0 0 1 2 2 V734 a2 2 0 0 1 -2 2 H1196 Z" fill="#fdd835"/>
<text x="1205.0" y="731.7" font-size="14.1" fill="#262626" textLength="31.8" lengthAdjust="spacingAndGlyphs" stroke="#262626" stroke-width="0.15">63.03</text>
<path d="M1196 737.2 H1241 a2 2 0 0 1 2 2 V753.3 a2 2 0 0 1 -2 2 H1196 Z" fill="#7e57c2"/>
<text x="1205.0" y="750.6" font-size="14.1" fill="#ffffff" textLength="31.8" lengthAdjust="spacingAndGlyphs" stroke="#ffffff" stroke-width="0.15">56.65</text>
<text x="20.3" y="50.8" font-size="13.5" fill="#262626" textLength="56.0" lengthAdjust="spacingAndGlyphs" stroke="#262626" stroke-width="0.15">Ethereum</text>
<text x="82.4" y="50.8" font-size="13.5" fill="#262626" stroke="#262626" stroke-width="0.15">/</text>
<text x="91.2" y="50.8" font-size="13.5" fill="#262626" textLength="39.2" lengthAdjust="spacingAndGlyphs" stroke="#262626" stroke-width="0.15">Bitcoin</text>
<text x="134.8" y="50.8" font-size="13.5" fill="#262626" font-weight="bold">·</text>
<text x="144.5" y="50.8" font-size="14.1" fill="#262626" textLength="15.5" lengthAdjust="spacingAndGlyphs" stroke="#262626" stroke-width="0.15">1W</text>
<text x="165.4" y="50.8" font-size="13.5" fill="#262626" font-weight="bold">·</text>
<text x="174.5" y="50.8" font-size="13.5" fill="#262626" textLength="45.1" lengthAdjust="spacingAndGlyphs" stroke="#262626" stroke-width="0.15">Binance</text>
<text x="228.7" y="50.8" font-size="13.5" fill="#262626" textLength="8.1" lengthAdjust="spacingAndGlyphs" stroke="#262626" stroke-width="0.15">O</text>
<text x="236.8" y="50.8" font-size="14.1" fill="#f23645" textLength="45.5" lengthAdjust="spacingAndGlyphs" stroke="#f23645" stroke-width="0.15">0.03656</text>
<text x="290.6" y="50.8" font-size="13.5" fill="#262626" textLength="7.6" lengthAdjust="spacingAndGlyphs" stroke="#262626" stroke-width="0.15">H</text>
<text x="298.2" y="50.8" font-size="14.1" fill="#f23645" textLength="45.6" lengthAdjust="spacingAndGlyphs" stroke="#f23645" stroke-width="0.15">0.03812</text>
<text x="353.1" y="50.8" font-size="13.5" fill="#262626" textLength="5.7" lengthAdjust="spacingAndGlyphs" stroke="#262626" stroke-width="0.15">L</text>
<text x="358.8" y="50.8" font-size="14.1" fill="#f23645" textLength="45.4" lengthAdjust="spacingAndGlyphs" stroke="#f23645" stroke-width="0.15">0.03194</text>
<text x="413.1" y="50.8" font-size="13.5" fill="#262626" textLength="6.9" lengthAdjust="spacingAndGlyphs" stroke="#262626" stroke-width="0.15">C</text>
<text x="420.0" y="50.8" font-size="14.1" fill="#f23645" textLength="45.6" lengthAdjust="spacingAndGlyphs" stroke="#f23645" stroke-width="0.15">0.03579</text>
<text x="474.0" y="50.8" font-size="14.1" fill="#f23645" textLength="104.8" lengthAdjust="spacingAndGlyphs" stroke="#f23645" stroke-width="0.15">−0.00077 (−2.11%)</text>
<text x="20.3" y="69.1" font-size="13.5" fill="#262626" textLength="23.6" lengthAdjust="spacingAndGlyphs" stroke="#262626" stroke-width="0.15">EMA</text>
<text x="47.8" y="69.1" font-size="13.5" fill="#262626" textLength="23.2" lengthAdjust="spacingAndGlyphs" stroke="#262626" stroke-width="0.15">(20,</text>
<text x="74.8" y="69.1" font-size="13.5" fill="#262626" textLength="34.2" lengthAdjust="spacingAndGlyphs" stroke="#262626" stroke-width="0.15">close)</text>
<text x="116.7" y="69.1" font-size="14.1" fill="#262626" textLength="45.8" lengthAdjust="spacingAndGlyphs" stroke="#262626" stroke-width="0.15">0.03375</text>
<text x="20.3" y="87.3" font-size="13.5" fill="#262626" textLength="17.3" lengthAdjust="spacingAndGlyphs" stroke="#262626" stroke-width="0.15">MA</text>
<text x="41.0" y="87.3" font-size="13.5" fill="#262626" textLength="29.9" lengthAdjust="spacingAndGlyphs" stroke="#262626" stroke-width="0.15">Cross</text>
<text x="75.5" y="87.3" font-size="13.5" fill="#262626" textLength="16.5" lengthAdjust="spacingAndGlyphs" stroke="#262626" stroke-width="0.15">(9,</text>
<text x="96.0" y="87.3" font-size="14.1" fill="#262626" textLength="17.5" lengthAdjust="spacingAndGlyphs" stroke="#262626" stroke-width="0.15">50)</text>
<text x="121.5" y="87.3" font-size="14.1" fill="#2962ff" textLength="45.6" lengthAdjust="spacingAndGlyphs" stroke="#2962ff" stroke-width="0.15">0.03018</text>
<text x="20.3" y="105.2" font-size="13.5" fill="#262626" textLength="18.5" lengthAdjust="spacingAndGlyphs" stroke="#262626" stroke-width="0.15">Key</text>
<text x="43.7" y="105.2" font-size="13.5" fill="#262626" textLength="36.9" lengthAdjust="spacingAndGlyphs" stroke="#262626" stroke-width="0.15">Levels</text>
<text x="20.3" y="666.6" font-size="13.5" fill="#262626" textLength="16.4" lengthAdjust="spacingAndGlyphs" stroke="#262626" stroke-width="0.15">RSI</text>
<text x="42.0" y="666.6" font-size="13.5" fill="#262626" textLength="20.8" lengthAdjust="spacingAndGlyphs" stroke="#262626" stroke-width="0.15">(14,</text>
<text x="68.2" y="666.6" font-size="13.5" fill="#262626" textLength="34.2" lengthAdjust="spacingAndGlyphs" stroke="#262626" stroke-width="0.15">close)</text>
<text x="111.0" y="666.6" font-size="14.1" fill="#7e57c2" textLength="31.2" lengthAdjust="spacingAndGlyphs" stroke="#7e57c2" stroke-width="0.15">56.65</text>
<text x="150.6" y="666.6" font-size="14.1" fill="#fdd835" textLength="31.5" lengthAdjust="spacingAndGlyphs" stroke="#fdd835" stroke-width="0.15">63.03</text>
<text x="113.3" y="842.4" font-size="14.1" fill="#262626" textLength="29.4" lengthAdjust="spacingAndGlyphs" font-weight="bold">2023</text>
<text x="299.8" y="842.4" font-size="13.5" fill="#262626" textLength="16.5" lengthAdjust="spacingAndGlyphs" stroke="#262626" stroke-width="0.15">Jul</text>
<text x="472.6" y="842.4" font-size="14.1" fill="#262626" textLength="29.4" lengthAdjust="spacingAndGlyphs" font-weight="bold">2024</text>
<text x="658.8" y="842.4" font-size="13.5" fill="#262626" textLength="16.5" lengthAdjust="spacingAndGlyphs" stroke="#262626" stroke-width="0.15">Jul</text>
<text x="838.4" y="842.4" font-size="14.1" fill="#262626" textLength="29.4" lengthAdjust="spacingAndGlyphs" font-weight="bold">2025</text>
<text x="1025.2" y="842.4" font-size="13.5" fill="#262626" textLength="16.5" lengthAdjust="spacingAndGlyphs" stroke="#262626" stroke-width="0.15">Jul</text>
<g fill="#d9d9d9"><path d="M13.3 876.4 H26.9 V893.1 H20 V883.4 H13.3 Z"/><circle cx="32" cy="879.8" r="2.75"/><path d="M37.6 876.4 H45.8 L39.8 893.1 H32 Z"/></g>
<text x="53.5" y="893.1" font-size="23.3" fill="#d9d9d9" textLength="131.7" lengthAdjust="spacingAndGlyphs" font-weight="bold">TradingView</text>
</svg></body></html>
